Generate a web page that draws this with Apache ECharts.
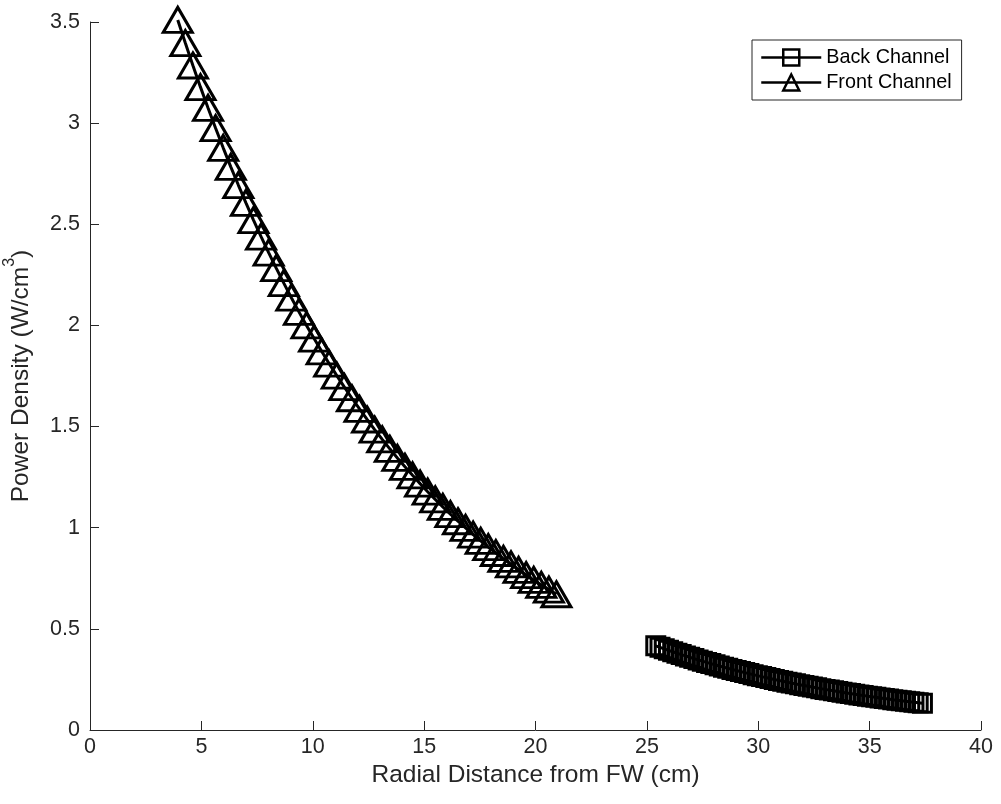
<!DOCTYPE html>
<html>
<head>
<meta charset="utf-8">
<script src="https://cdn.jsdelivr.net/npm/echarts@6/dist/echarts.min.js"></script>
<style>html,body{margin:0;padding:0;background:#fff}#c{width:1001px;height:804px}</style>
</head>
<body>
<div id="c"></div>
<script>
// Front Channel (triangles)
var frontX = [3.94, 4.28, 4.62, 4.96, 5.30, 5.64, 5.98, 6.32, 6.66, 7.00, 7.34, 7.68, 8.02, 8.36, 8.70, 9.04, 9.38, 9.72, 10.06, 10.40, 10.74, 11.08, 11.42, 11.76, 12.10, 12.44, 12.78, 13.12, 13.46, 13.80, 14.14, 14.48, 14.82, 15.16, 15.50, 15.84, 16.18, 16.52, 16.86, 17.20, 17.54, 17.88, 18.22, 18.56, 18.90, 19.24, 19.58, 19.92, 20.26, 20.60, 20.94];
var frontY = [3.510, 3.396, 3.285, 3.178, 3.075, 2.975, 2.878, 2.784, 2.694, 2.606, 2.521, 2.439, 2.360, 2.283, 2.209, 2.137, 2.067, 2.000, 1.935, 1.872, 1.811, 1.752, 1.695, 1.640, 1.587, 1.535, 1.485, 1.437, 1.390, 1.345, 1.301, 1.259, 1.218, 1.178, 1.140, 1.103, 1.067, 1.032, 0.999, 0.966, 0.935, 0.904, 0.875, 0.846, 0.819, 0.792, 0.766, 0.742, 0.717, 0.694, 0.671];
// Back Channel (squares)
var backX = [25.40, 25.59, 25.78, 25.97, 26.16, 26.35, 26.54, 26.73, 26.92, 27.11, 27.30, 27.49, 27.68, 27.87, 28.06, 28.25, 28.44, 28.63, 28.82, 29.01, 29.20, 29.39, 29.58, 29.77, 29.96, 30.15, 30.34, 30.53, 30.72, 30.91, 31.10, 31.29, 31.48, 31.67, 31.86, 32.05, 32.24, 32.43, 32.62, 32.81, 33.00, 33.19, 33.38, 33.57, 33.76, 33.95, 34.14, 34.33, 34.52, 34.71, 34.90, 35.09, 35.28, 35.47, 35.66, 35.85, 36.04, 36.23, 36.42, 36.61, 36.80, 36.99, 37.18, 37.37];
var backY = [0.4160, 0.4085, 0.4011, 0.3938, 0.3867, 0.3797, 0.3728, 0.3661, 0.3595, 0.3530, 0.3466, 0.3403, 0.3342, 0.3282, 0.3223, 0.3165, 0.3108, 0.3052, 0.2997, 0.2943, 0.2890, 0.2838, 0.2787, 0.2737, 0.2688, 0.2639, 0.2591, 0.2544, 0.2498, 0.2453, 0.2409, 0.2366, 0.2323, 0.2281, 0.2240, 0.2200, 0.2160, 0.2121, 0.2083, 0.2045, 0.2008, 0.1972, 0.1936, 0.1901, 0.1867, 0.1833, 0.1800, 0.1768, 0.1736, 0.1705, 0.1674, 0.1644, 0.1614, 0.1585, 0.1556, 0.1528, 0.1500, 0.1473, 0.1446, 0.1420, 0.1394, 0.1369, 0.1344, 0.1320];

var seriesNames = ['Back Channel', 'Front Channel'];
var xTitle = 'Radial Distance from FW (cm)';

function pairs(xs, ys) { return xs.map(function (x, i) { return [x, ys[i]]; }); }

var FONT = '"Liberation Sans", Arial, Helvetica, sans-serif';
var AX = '#262626';

var chart = echarts.init(document.getElementById('c'), null, { renderer: 'canvas' });
chart.setOption({
  animation: false,
  backgroundColor: '#fff',
  textStyle: { fontFamily: FONT },
  grid: { left: 90, right: 20, top: 22, bottom: 74, containLabel: false, outerBoundsMode: 'none' },
  legend: {
    left: 752, top: 40, orient: 'vertical',
    data: seriesNames,
    backgroundColor: '#fff',
    borderColor: AX, borderWidth: 1, borderRadius: 0,
    padding: [7, 10, 7, 8], itemGap: 4,
    itemWidth: 60, itemHeight: 20,
    itemStyle: { borderWidth: 2.5 },
    lineStyle: { width: 2.5 },
    textStyle: { fontSize: 19.8, color: '#000', fontFamily: FONT }
  },
  xAxis: {
    type: 'value', min: 0, max: 40, interval: 5,
    name: xTitle, nameLocation: 'middle', nameGap: 28,
    nameTextStyle: { fontSize: 24.5, color: AX, fontFamily: FONT },
    axisLine: { show: true, onZero: false, lineStyle: { color: AX, width: 1 } },
    axisTick: { show: true, inside: true, length: 9, lineStyle: { color: AX } },
    axisLabel: { fontSize: 21.5, color: AX, margin: 6, fontFamily: FONT },
    splitLine: { show: false }
  },
  yAxis: {
    type: 'value', min: 0, max: 3.5, interval: 0.5,
    name: '{a|Power Density (W/cm}{s|3}{a|)}', nameLocation: 'middle', nameGap: 56, nameRotate: 90,
    nameTextStyle: {
      fontSize: 24.5, color: AX, fontFamily: FONT,
      rich: {
        a: { fontSize: 24.5, color: AX, fontFamily: FONT, lineHeight: 32, verticalAlign: 'bottom' },
        s: { fontSize: 16, color: AX, fontFamily: FONT, lineHeight: 32, verticalAlign: 'top' }
      }
    },
    axisLine: { show: true, onZero: false, lineStyle: { color: AX, width: 1 } },
    axisTick: { show: true, inside: true, length: 9, lineStyle: { color: AX } },
    axisLabel: { fontSize: 21.5, color: AX, margin: 10, fontFamily: FONT },
    splitLine: { show: false }
  },
  series: [
    {
      name: seriesNames[0], type: 'line', clip: false,
      data: pairs(backX, backY),
      symbol: 'rect', symbolSize: 18,
      lineStyle: { color: '#000', width: 3 },
      itemStyle: { color: 'none', borderColor: '#000', borderWidth: 3 },
      emphasis: { disabled: true }
    },
    {
      name: seriesNames[1], type: 'line', clip: false,
      data: pairs(frontX, frontY),
      symbol: 'triangle', symbolSize: [29, 25],
      lineStyle: { color: '#000', width: 3 },
      itemStyle: { color: 'none', borderColor: '#000', borderWidth: 3 },
      emphasis: { disabled: true }
    }
  ]
});
</script>
</body>
</html>
